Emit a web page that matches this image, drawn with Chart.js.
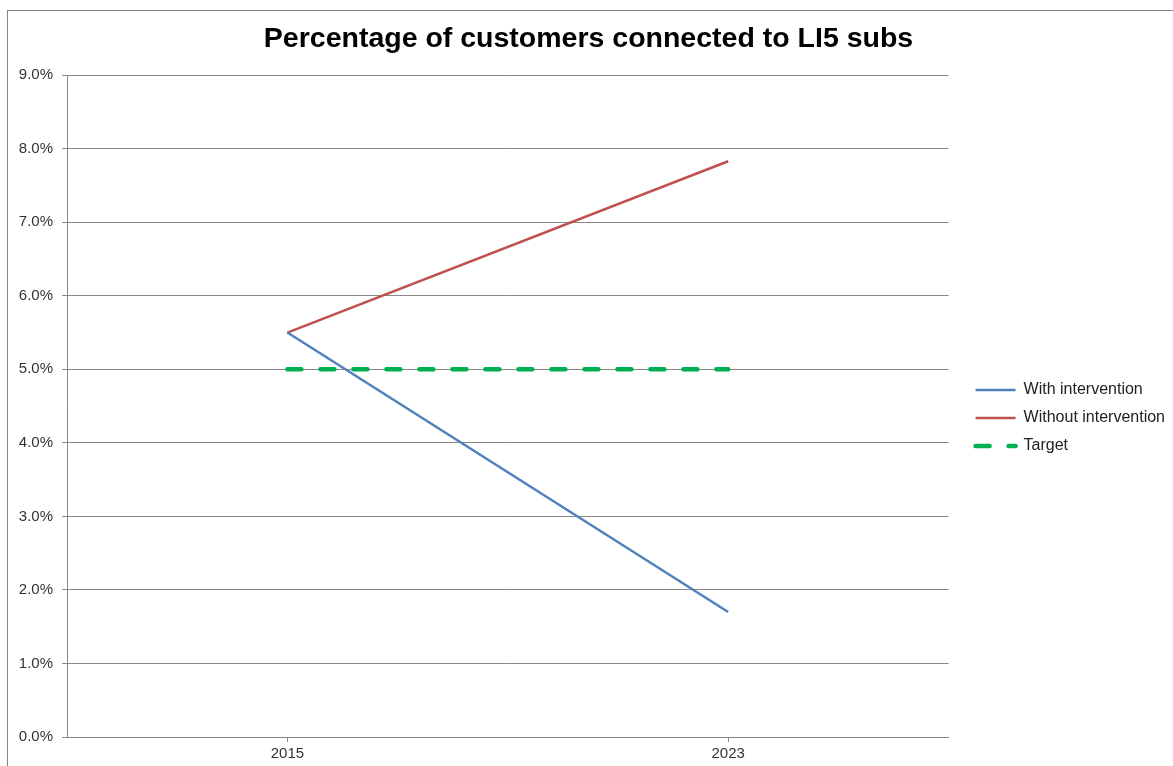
<!DOCTYPE html>
<html>
<head>
<meta charset="utf-8">
<script src="https://cdn.jsdelivr.net/npm/chart.js@4"></script>
<style>
  html, body { margin: 0; padding: 0; background: #fff; }
  #wrap { width: 1173px; height: 766px; }
</style>
</head>
<body>
<div id="wrap"><canvas id="chart" width="1173" height="766"></canvas></div>
<script>
const years = ["2015", "2023"];
const withIntervention = [5.5, 1.7];
const withoutIntervention = [5.5, 7.83];
const target = [5.0, 5.0];

Chart.defaults.font.family = '"Liberation Sans", Arial, sans-serif';
Chart.defaults.color = "#333";

// outer frame + white background
const frame = {
  id: "frame",
  beforeDraw(chart) {
    const ctx = chart.ctx;
    ctx.save();
    ctx.fillStyle = "#fff";
    ctx.fillRect(0, 0, chart.width, chart.height);
    ctx.strokeStyle = "#888";
    ctx.lineWidth = 1;
    ctx.strokeRect(7.5, 10.5, chart.width, chart.height);
    ctx.restore();
  }
};

// nudge the legend away from the plot and recentre the title on the page
const nudge = {
  id: "nudge",
  afterLayout(chart) {
    const lg = chart.legend;
    lg.left += 15; lg.right += 15;
    lg.top += 20; lg.bottom += 20;
    const tb = chart.titleBlock;
    tb.left += 5; tb.right += 5;
  }
};

new Chart(document.getElementById("chart"), {
  type: "line",
  data: {
    labels: years,
    datasets: [
      {
        label: "With intervention",
        data: withIntervention,
        borderColor: "#4F81BD",
        backgroundColor: "#4F81BD",
        borderWidth: 2.5,
        pointRadius: 0
      },
      {
        label: "Without intervention",
        data: withoutIntervention,
        borderColor: "#C0504D",
        backgroundColor: "#C0504D",
        borderWidth: 2.5,
        pointRadius: 0
      },
      {
        label: "Target",
        data: target,
        borderColor: "#00B050",
        backgroundColor: "#00B050",
        borderWidth: 4.5,
        borderDash: [14, 19],
        borderCapStyle: "round",
        pointRadius: 0
      }
    ]
  },
  options: {
    responsive: false,
    animation: false,
    layout: { padding: { top: 10, left: 7, right: 13, bottom: 0 } },
    plugins: {
      title: {
        display: true,
        text: "Percentage of customers connected to LI5 subs",
        color: "#000",
        font: { size: 28.5, weight: "bold" },
        padding: { top: 12, bottom: 19 }
      },
      legend: {
        position: "right",
        title: { display: true, text: " ", font: { size: 10 }, padding: { top: 4, bottom: 4 } },
        labels: {
          usePointStyle: true,
          pointStyle: "line",
          pointStyleWidth: 40,
          boxWidth: 40,
          padding: 12,
          color: "#222",
          font: { size: 16 },
          // point style drops the dataset dash, so put it back
          generateLabels: chart => {
            const items = Chart.defaults.plugins.legend.labels.generateLabels(chart);
            items.forEach(it => {
              const ds = chart.data.datasets[it.datasetIndex];
              it.lineWidth = ds.borderWidth;
              if (ds.borderDash) {
                it.lineDash = ds.borderDash;
                it.lineDashOffset = 0;
                it.lineCap = "round";
              }
            });
            return items;
          }
        }
      },
      tooltip: { enabled: false }
    },
    scales: {
      x: {
        offset: true,
        grid: { drawOnChartArea: false, drawTicks: true, tickLength: 5, color: "#888" },
        border: { color: "#888" },
        ticks: { padding: 3, color: "#333", font: { size: 15 } }
      },
      y: {
        min: 0,
        max: 9,
        afterFit: s => { s.width = 60; },
        grid: { color: "#888", tickLength: 5 },
        border: { color: "#888" },
        ticks: {
          stepSize: 1,
          padding: 9,
          color: "#333",
          font: { size: 15 },
          callback: v => v.toFixed(1) + "%"
        }
      }
    }
  },
  plugins: [frame, nudge]
});
</script>
</body>
</html>
